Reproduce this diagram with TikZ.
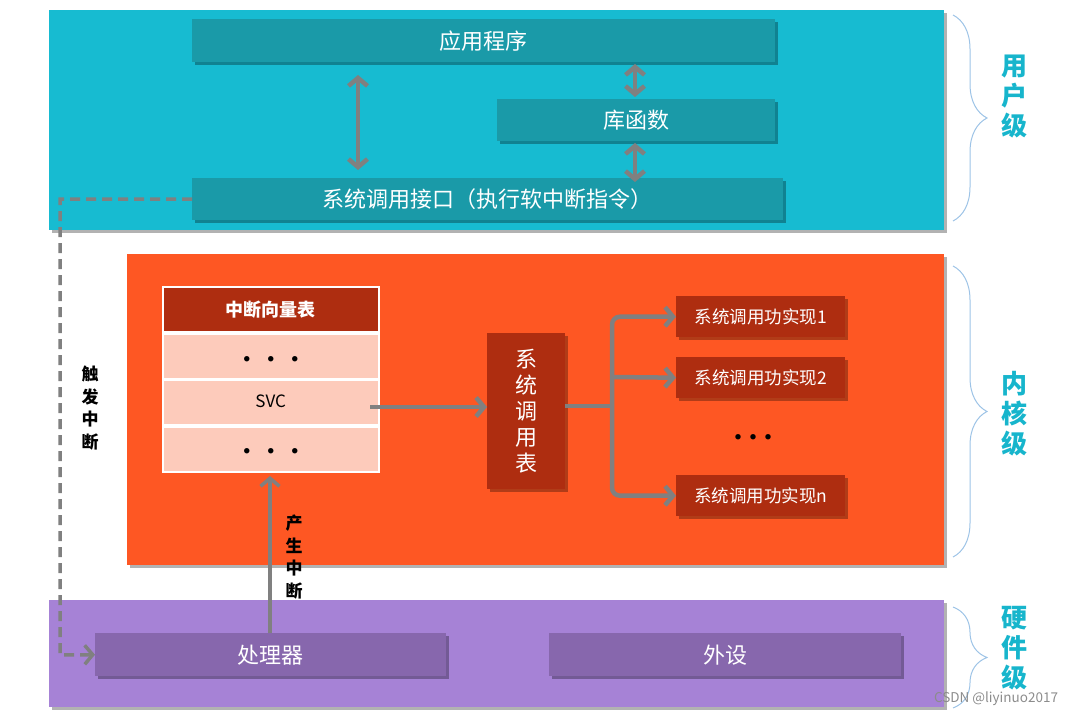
\documentclass[tikz,border=0pt]{standalone}
\usepackage{fontspec}
\setmainfont{Noto Sans CJK SC}
\usetikzlibrary{arrows.meta,shadows,decorations.pathreplacing,positioning}

\definecolor{userblue}{HTML}{17BBD1}
\definecolor{userbox}{HTML}{1A9AA8}
\definecolor{kernelred}{HTML}{FE5723}
\definecolor{darkred}{HTML}{AE2D10}
\definecolor{rowpink}{HTML}{FDCBBB}
\definecolor{hwpurple}{HTML}{A682D6}
\definecolor{hwbox}{HTML}{8767AD}
\definecolor{bracecol}{HTML}{9DC3E6}
\definecolor{levelcol}{HTML}{17B5CC}
\definecolor{arrowgray}{HTML}{808080}

\newcommand{\fs}[2]{\fontsize{#1}{#2}\selectfont}
\newcommand{\tridots}[1]{●\hspace{#1}●\hspace{#1}●}

\begin{document}
\begin{tikzpicture}[x=1pt,y=-1pt,>={Straight Barb[length=8pt,width=19pt]},
  shade/.style={drop shadow={shadow xshift=3pt,shadow yshift=-3pt,opacity=0.3,fill=black}},
  layerbox/.style={shade,anchor=north west,inner sep=0pt},
  block/.style={shade,anchor=north west,inner sep=0pt,text=white,font=\fs{22}{26}},
  implbox/.style={block,fill=darkred,minimum width=169pt,minimum height=41pt,font=\fs{17.5}{20}},
  rowbox/.style={anchor=north west,inner sep=0pt,fill=rowpink,draw=white,line width=1.5pt,
    minimum width=216pt,minimum height=45pt},
  arr/.style={->,draw=arrowgray,line width=4.5pt},
  dblarr/.style={<->,draw=arrowgray,line width=4.5pt},
  levelbrace/.style={draw=bracecol,line width=1pt,decorate,
    decoration={brace,amplitude=34pt,aspect=0.5}},
  leveltext/.style={text=levelcol,font=\fs{26}{30}\bfseries,align=center},
  vtext/.style={font=\fs{17}{22.5}\bfseries,align=center}
]
\useasboundingbox (0,0) rectangle (1080,717);

% layers
\node[layerbox,fill=userblue,minimum width=895pt,minimum height=220pt] (user) at (49,10) {};
\node[layerbox,fill=kernelred,minimum width=817pt,minimum height=311pt] (kernel) at (127,254) {};
\node[layerbox,fill=hwpurple,minimum width=895pt,minimum height=107pt] (hw) at (49,600) {};

% user level
\node[block,fill=userbox,minimum width=583pt,minimum height=43pt] (app) at (192,19) {应用程序};
\node[block,fill=userbox,minimum width=278pt,minimum height=42pt] (lib) at (497,99) {库函数};
\node[block,fill=userbox,minimum width=591pt,minimum height=42pt] (sci) at (192,178) {系统调用接口（执行软中断指令）};
\draw[dblarr] (358,75) -- (358,170);
\draw[dblarr] (635,64) -- (635,97);
\draw[dblarr] (635,143) -- (635,182);

% kernel level
\node[anchor=north west,inner sep=0pt,fill=darkred,draw=white,line width=1.5pt,
  minimum width=216pt,minimum height=45pt,text=white,font=\fs{18}{20}\bfseries] (vhead) at (162,286) {中断向量表};
\node[rowbox,font=\fs{6}{8}] (row1) at (162,333) {\raisebox{-10pt}{\tridots{18pt}}};
\node[rowbox,font=\fs{17}{20}] (svc) at (162,379) {\raisebox{2pt}{SVC}};
\node[rowbox,font=\fs{6}{8}] (row3) at (162,426) {\raisebox{-8pt}{\tridots{18pt}}};

\node[block,fill=darkred,minimum width=78pt,minimum height=156pt,font=\fs{22}{26},align=center] (sctab) at (487,333)
  {系\\统\\调\\用\\表};
\draw[arr] (370,407) -- (sctab.west |- 0,407);

\node[implbox] (impl1) at (676,296) {系统调用功实现1};
\node[implbox] (impl2) at (676,357) {系统调用功实现2};
\node[font=\fs{6}{8}] (idots) at (753,437) {\tridots{9pt}};
\node[implbox] (impln) at (676,475) {系统调用功实现n};

\coordinate (fork) at (612,406);
\draw[arrowgray,line width=4.5pt] (sctab.east |- 0,406) -- (fork);
\draw[arr,rounded corners=8pt] (fork) |- (impl1.west);
\draw[arr] (612,377) -- (impl2.west);
\draw[arr,rounded corners=8pt] (fork) |- (impln.west);

% hardware level
\node[block,fill=hwbox,minimum width=351pt,minimum height=43pt] (cpu) at (95,633) {处理器};
\node[block,fill=hwbox,minimum width=352pt,minimum height=43pt] (dev) at (549,633) {外设};

% interrupts
\draw[arr,line width=3.5pt] (cpu.north -| 270,0) -- (270,476);
\node[vtext] (gen) at (294,557) {产\\生\\中\\断};
\draw[arr,line width=3.5pt,dash pattern=on 10pt off 6pt] (sci.west) -| (60,655) -- (cpu.west);
\node[vtext] (trig) at (90,408) {触\\发\\中\\断};

% level braces
\draw[levelbrace] (953,15) -- (953,221);
\node[leveltext] (lu) at (1014,97) {用\\户\\级};
\draw[levelbrace] (953,266) -- (953,557);
\node[leveltext] (lk) at (1014,414) {内\\核\\级};
\draw[levelbrace] (953,607) -- (953,708);
\node[leveltext] (lh) at (1014,648) {硬\\件\\级};

\node[text=black!45,font=\fs{13.5}{16}] (mark) at (996,699) {CSDN @liyinuo2017};
\end{tikzpicture}
\end{document}
